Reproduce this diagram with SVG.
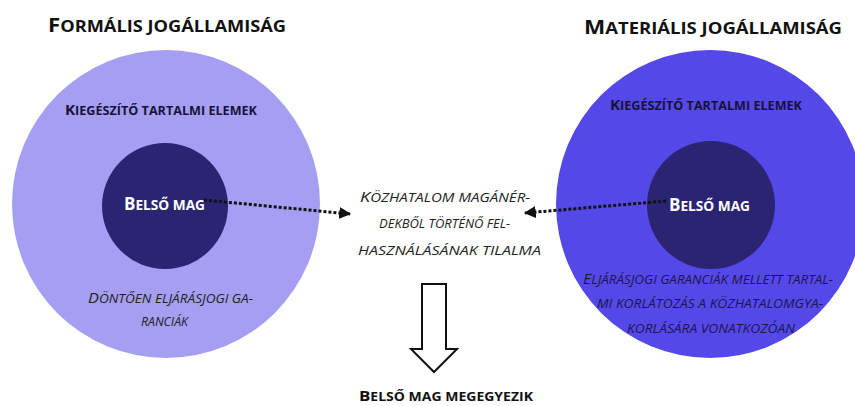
<svg xmlns="http://www.w3.org/2000/svg" width="855" height="406" viewBox="0 0 855 406">
<defs>
<style>
text{font-family:"Open Sans","Noto Sans","DejaVu Sans",sans-serif}
.sc{text-transform:uppercase}
.title{font-size:19.5px;font-weight:bold;fill:#111}
.title .sc{font-size:16px}
.sub{font-size:14.5px;font-weight:bold;fill:#15123a}
.sub .sc{font-size:12px}
.core{font-size:18px;font-weight:bold;fill:#ffffff}
.core .sc{font-size:14.5px}
.it{font-size:15px;font-style:italic;fill:#222}
.itr{font-size:15px;font-style:italic;fill:#1a1650}
.it .sc,.itr .sc{font-size:12.5px}
.bottom{font-size:14.5px;font-weight:bold;fill:#111}
.bottom .sc{font-size:12px}
.dot{fill:none;stroke:#111;stroke-width:3;stroke-dasharray:3 2}
</style>
<marker id="ah" viewBox="0 0 10 10" refX="9" refY="5" markerWidth="4" markerHeight="4" orient="auto" markerUnits="strokeWidth">
<path d="M0,0 L10,5 L0,10 Z" fill="#111"/>
</marker>
</defs>
<rect width="855" height="406" fill="#ffffff"/>
<g id="formalis">
<text class="title" x="48" y="32" textLength="238" lengthAdjust="spacingAndGlyphs">F<tspan class="sc">ormális jogállamiság</tspan></text>
<circle cx="166" cy="204" r="154" fill="#a59ef2"/>
<text class="sub" x="65" y="115" textLength="192" lengthAdjust="spacingAndGlyphs">K<tspan class="sc">iegészítő tartalmi elemek</tspan></text>
<text class="it" x="88" y="303" textLength="165" lengthAdjust="spacingAndGlyphs">D<tspan class="sc">öntően eljárásjogi ga-</tspan></text>
<text class="it" x="141" y="326" textLength="47" lengthAdjust="spacingAndGlyphs"><tspan class="sc">ranciák</tspan></text>
</g>
<g id="formalis-mag">
<circle cx="165" cy="206" r="63" fill="#2b2472"/>
<text class="core" x="124" y="210" textLength="81" lengthAdjust="spacingAndGlyphs">B<tspan class="sc">első mag</tspan></text>
</g>
<g id="materialis">
<text class="title" x="584" y="34" textLength="258" lengthAdjust="spacingAndGlyphs">M<tspan class="sc">ateriális jogállamiság</tspan></text>
<circle cx="710" cy="204" r="154" fill="#5548e8"/>
<text class="sub" x="610" y="110" textLength="192" lengthAdjust="spacingAndGlyphs">K<tspan class="sc">iegészítő tartalmi elemek</tspan></text>
<text class="itr" x="583" y="284" textLength="250" lengthAdjust="spacingAndGlyphs">E<tspan class="sc">ljárásjogi garanciák mellett tartal-</tspan></text>
<text class="itr" x="597" y="308" textLength="226" lengthAdjust="spacingAndGlyphs"><tspan class="sc">mi korlátozás a közhatalomgya-</tspan></text>
<text class="itr" x="627" y="333" textLength="168" lengthAdjust="spacingAndGlyphs"><tspan class="sc">korlására vonatkozóan</tspan></text>
</g>
<g id="materialis-mag">
<circle cx="711" cy="205" r="64" fill="#2b2472"/>
<text class="core" x="669" y="211" textLength="81" lengthAdjust="spacingAndGlyphs">B<tspan class="sc">első mag</tspan></text>
</g>
<g id="tilalom">
<text class="it" x="360" y="202" textLength="170" lengthAdjust="spacingAndGlyphs">K<tspan class="sc">özhatalom magánér-</tspan></text>
<text class="it" x="379" y="228" textLength="131" lengthAdjust="spacingAndGlyphs"><tspan class="sc">dekből történő fel-</tspan></text>
<text class="it" x="358" y="255" textLength="183" lengthAdjust="spacingAndGlyphs"><tspan class="sc">használásának tilalma</tspan></text>
</g>
<g id="megegyezik">
<text class="bottom" x="359" y="401" textLength="174" lengthAdjust="spacingAndGlyphs">B<tspan class="sc">első mag megegyezik</tspan></text>
</g>
<g id="connectors">
<path class="dot" d="M204,200 L350,214" marker-end="url(#ah)"/>
<path class="dot" d="M666,201 L525,213" marker-end="url(#ah)"/>
<path d="M422,284 H446 V349 H457 L434,372 L411,349 H422 Z" fill="#ffffff" stroke="#111" stroke-width="2" stroke-linejoin="miter"/>
</g>
</svg>
